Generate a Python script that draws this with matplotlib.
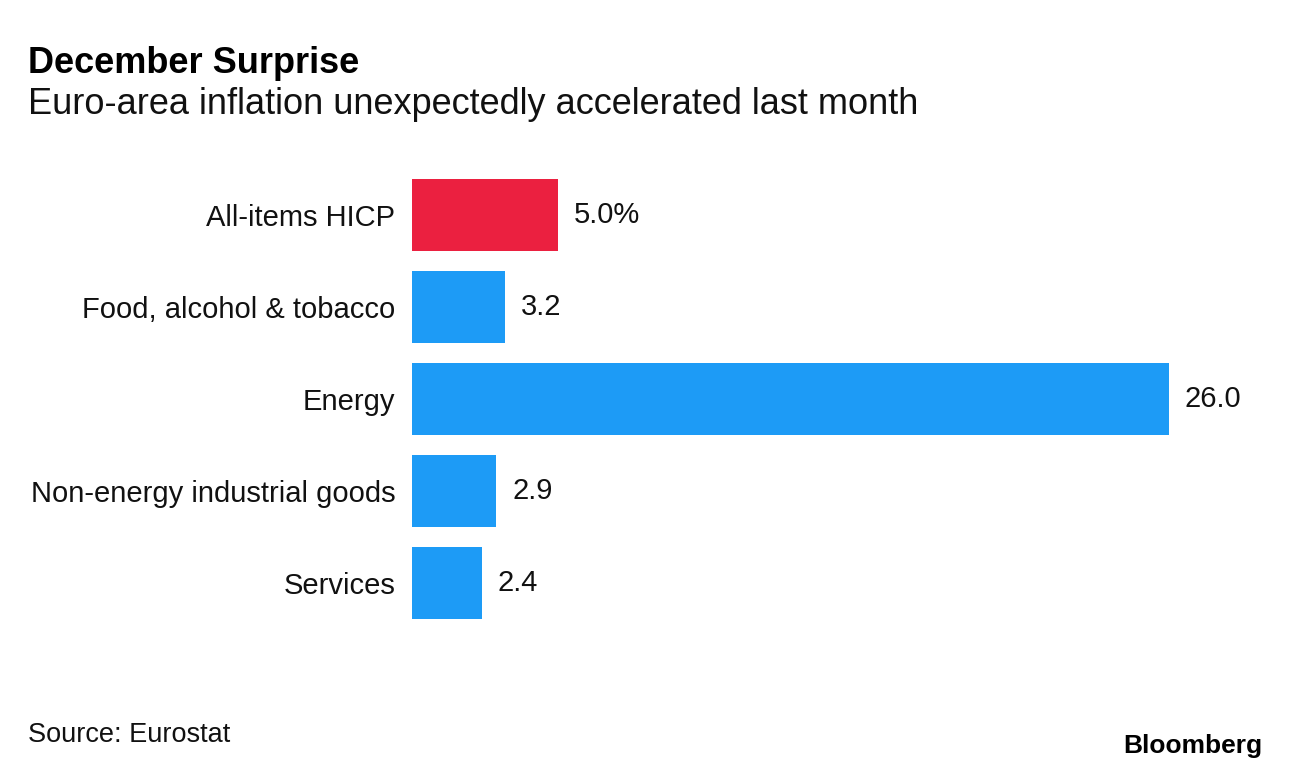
import matplotlib.pyplot as plt

plt.rcParams['font.family'] = ['Liberation Sans', 'DejaVu Sans']

categories = ['All-items HICP', 'Food, alcohol & tobacco', 'Energy',
              'Non-energy industrial goods', 'Services']
values = [5.0, 3.2, 26.0, 2.9, 2.4]
value_labels = ['5.0%', '3.2', '26.0', '2.9', '2.4']
colors = ['#EB2040', '#1D9BF6', '#1D9BF6', '#1D9BF6', '#1D9BF6']

W, H = 1289, 772
fig = plt.figure(figsize=(W / 100, H / 100), dpi=100)

# axes placed so zero sits at x=412px and 26.0 at x=1169px
ax = fig.add_axes([412 / W, 1 - 629 / H, 757 / W, 460 / H])
y = list(range(len(categories)))
ax.barh(y, values, height=0.78, color=colors)
ax.set_xlim(0, 26)
ax.set_ylim(len(categories) - 0.5, -0.5)

for yi, v, lab in zip(y, values, value_labels):
    ax.annotate(lab, (v, yi), xytext=(16, 0), textcoords='offset pixels',
                ha='left', va='center', fontsize=21, color='#111111')

ax.set_yticks(y)
ax.set_yticklabels(categories, fontsize=21, color='#111111')
ax.tick_params(axis='y', length=0, pad=12)
ax.set_xticks([])
for s in ax.spines.values():
    s.set_visible(False)

fig.text(28 / W, 1 - 73 / H, 'December Surprise', fontsize=26, fontweight='bold',
         ha='left', va='baseline', color='#000000')
fig.text(28 / W, 1 - 114 / H, 'Euro-area inflation unexpectedly accelerated last month',
         fontsize=26, ha='left', va='baseline', color='#111111')
fig.text(28 / W, 1 - 742 / H, 'Source: Eurostat', fontsize=19.5, ha='left', va='baseline',
         color='#111111')
fig.text(1262 / W, 1 - 753 / H, 'Bloomberg', fontsize=19, fontweight='bold',
         ha='right', va='baseline', color='#000000')

fig.savefig('out.png', dpi=100, facecolor='white')
